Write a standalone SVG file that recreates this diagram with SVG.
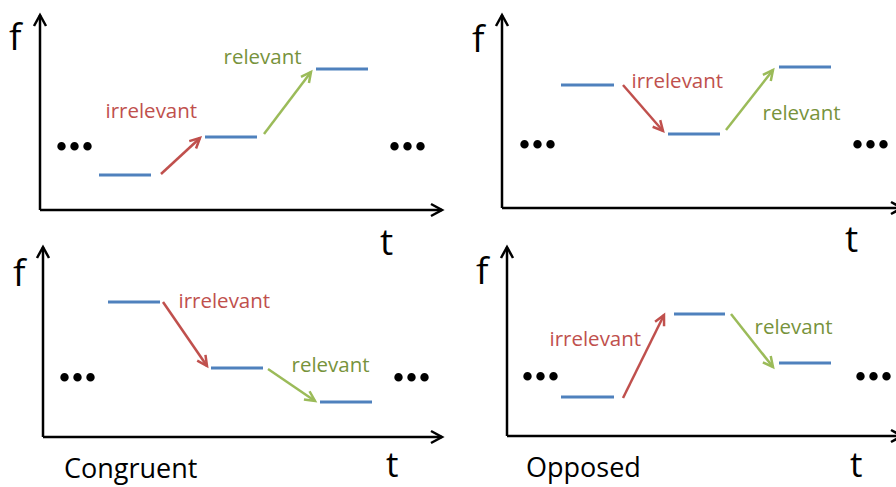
<svg xmlns="http://www.w3.org/2000/svg" width="896" height="487" viewBox="0 0 896 487">
  <style>
    .axis { stroke: #000; stroke-width: 2.5; fill: none; marker-end: url(#ak); }
    .lvl { stroke: #4F81BD; stroke-width: 3; fill: none; }
    .ar { stroke: #C0504D; stroke-width: 2.5; fill: none; marker-end: url(#ar); }
    .ag { stroke: #9BBB59; stroke-width: 2.5; fill: none; marker-end: url(#ag); }
    .lab { font-family: "Open Sans", "Liberation Sans", sans-serif; font-size: 20.5px; }
    .red { fill: #C0504D; }
    .grn { fill: #77933C; }
    .ft { font-family: "Open Sans", "Liberation Sans", sans-serif; font-size: 37px; fill: #000; }
    .tb { font-size: 35px; }
    .cap { font-family: "Open Sans", "Liberation Sans", sans-serif; font-size: 27px; fill: #000; }
    .dots { font-family: "Liberation Serif", serif; font-weight: bold; font-size: 52px; fill: #000; }
  </style>
  <defs>
    <marker id="ak" markerUnits="userSpaceOnUse" viewBox="-14 -9 18 18" markerWidth="18" markerHeight="18" refX="0" refY="0" orient="auto" overflow="visible">
      <path d="M-11,-6 L0,0 L-11,6" fill="none" stroke="#000" stroke-width="2.5"/>
    </marker>
    <marker id="ar" markerUnits="userSpaceOnUse" viewBox="-14 -9 18 18" markerWidth="18" markerHeight="18" refX="0" refY="0" orient="auto" overflow="visible">
      <path d="M-10,-5 L0,0 L-10,5" fill="none" stroke="#C0504D" stroke-width="2.5"/>
    </marker>
    <marker id="ag" markerUnits="userSpaceOnUse" viewBox="-14 -9 18 18" markerWidth="18" markerHeight="18" refX="0" refY="0" orient="auto" overflow="visible">
      <path d="M-10,-5 L0,0 L-10,5" fill="none" stroke="#9BBB59" stroke-width="2.5"/>
    </marker>
  </defs>
  <rect width="896" height="487" fill="#fff"/>

  <!-- Panel 1 -->
  <g id="panel1">
    <g id="p1-axes">
      <path class="axis" d="M40,210 L40,15"/>
      <path class="axis" d="M40,210 L442,210"/>
      <text class="ft" x="9" y="50">f</text>
      <text class="ft" x="380" y="255">t</text>
      <text class="dots" x="55" y="150">...</text>
      <text class="dots" x="388" y="150">...</text>
    </g>
    <g id="p1-s1"><path class="lvl" d="M99,175 H151"/></g>
    <g id="p1-s2"><path class="lvl" d="M205,137 H257"/></g>
    <g id="p1-s3"><path class="lvl" d="M316,69 H368"/></g>
  </g>

  <!-- Panel 2 -->
  <g id="panel2">
    <g id="p2-axes">
      <path class="axis" d="M502,208 L502,15"/>
      <path class="axis" d="M502,208 L902,208"/>
      <text class="ft" x="472" y="52">f</text>
      <text class="ft" x="845" y="252">t</text>
      <text class="dots" x="518" y="148">...</text>
      <text class="dots" x="851" y="148">...</text>
    </g>
    <g id="p2-s1"><path class="lvl" d="M561,85 H614"/></g>
    <g id="p2-s2"><path class="lvl" d="M668,134 H720"/></g>
    <g id="p2-s3"><path class="lvl" d="M779,67 H831"/></g>
  </g>

  <!-- Panel 3 -->
  <g id="panel3">
    <g id="p3-axes">
      <path class="axis" d="M43,437 L43,247"/>
      <path class="axis" d="M43,437 L442,437"/>
      <text class="ft" x="13" y="286">f</text>
      <text class="ft tb" x="386" y="477">t</text>
      <text class="dots" x="58" y="381">...</text>
      <text class="dots" x="392" y="381">...</text>
      <text class="cap" x="64" y="478">Congruent</text>
    </g>
    <g id="p3-s1"><path class="lvl" d="M108,302 H160"/></g>
    <g id="p3-s2"><path class="lvl" d="M211,368 H263"/></g>
    <g id="p3-s3"><path class="lvl" d="M320,402 H372"/></g>
  </g>

  <!-- Panel 4 -->
  <g id="panel4">
    <g id="p4-axes">
      <path class="axis" d="M507,436 L507,247"/>
      <path class="axis" d="M507,436 L902,436"/>
      <text class="ft" x="476" y="284">f</text>
      <text class="ft tb" x="850" y="477">t</text>
      <text class="dots" x="521" y="380">...</text>
      <text class="dots" x="854" y="380">...</text>
      <text class="cap" x="526" y="477">Opposed</text>
    </g>
    <g id="p4-s1"><path class="lvl" d="M561,397 H614"/></g>
    <g id="p4-s2"><path class="lvl" d="M674,314 H725"/></g>
    <g id="p4-s3"><path class="lvl" d="M779,363 H831"/></g>
  </g>

  <!-- Connectors -->
  <g id="connectors">
    <path class="ar" d="M161,174 L200,138"/>
    <path class="ag" d="M264,134 L311,72"/>
    <path class="ar" d="M623,85 L663,131"/>
    <path class="ag" d="M726,130 L773,70"/>
    <path class="ar" d="M163,302 L207,366"/>
    <path class="ag" d="M268,369 L315,401"/>
    <path class="ar" d="M623,398 L664,315"/>
    <path class="ag" d="M731,314 L773,367"/>
  </g>

  <!-- Connector labels -->
  <g id="labels">
    <text class="lab red" x="105.5" y="118">irrelevant</text>
    <text class="lab grn" x="223.5" y="64">relevant</text>
    <text class="lab red" x="631.5" y="88">irrelevant</text>
    <text class="lab grn" x="762.5" y="120">relevant</text>
    <text class="lab red" x="178.5" y="308">irrelevant</text>
    <text class="lab grn" x="291.5" y="372">relevant</text>
    <text class="lab red" x="549.5" y="346">irrelevant</text>
    <text class="lab grn" x="754.5" y="334">relevant</text>
  </g>
</svg>
